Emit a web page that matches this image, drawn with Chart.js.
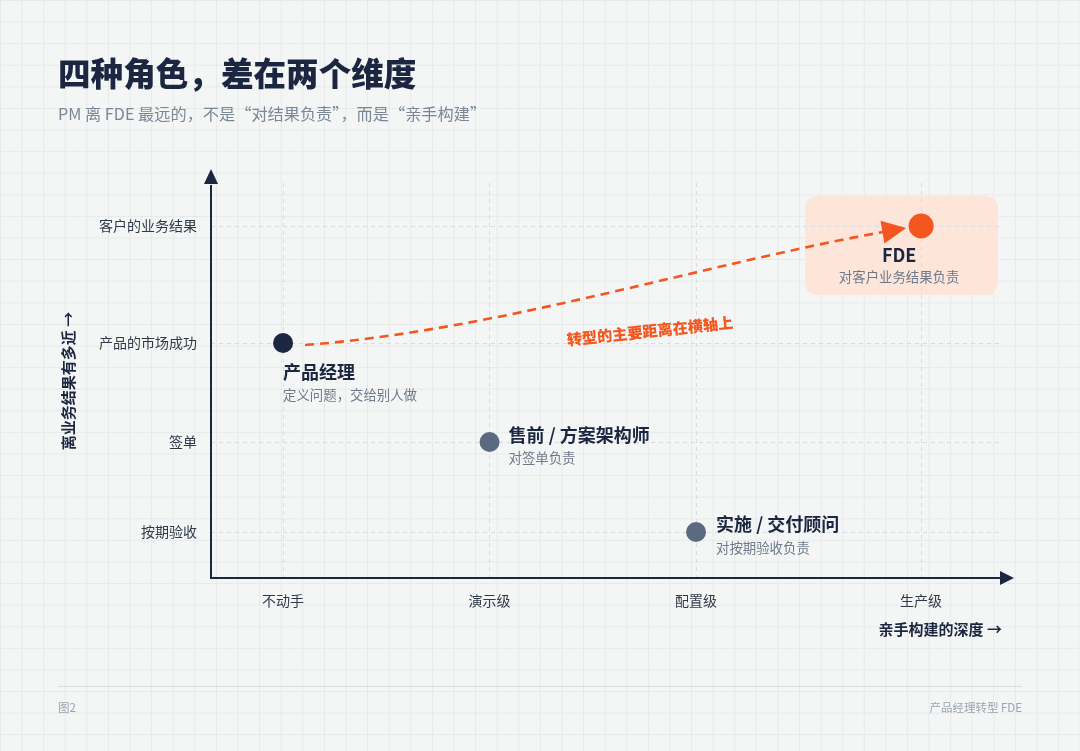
<!DOCTYPE html>
<html lang="zh-CN">
<head>
<meta charset="utf-8">
<title>四种角色，差在两个维度</title>
<script src="https://cdn.jsdelivr.net/npm/chart.js@4.4.1/dist/chart.umd.min.js"></script>
<style>
html, body { margin: 0; padding: 0; }
body {
  width: 1080px; height: 751px; position: relative; overflow: hidden;
  background-color: #f4f6f5;
  background-image:
    linear-gradient(to right, #e6eae9 1px, transparent 1px),
    linear-gradient(to bottom, #e6eae9 1px, transparent 1px);
  background-size: 21.6px 21.6px;
  font-family: "Noto Sans CJK SC", "Noto Sans", sans-serif;
}
#chart { position: absolute; left: 0; top: 0; }
.title { position: absolute; left: 58px; top: 56px; font-size: 32.6px; line-height: 32px; font-weight: 900; color: #1b2640; }
.subtitle { position: absolute; left: 58px; top: 102px; font-size: 16.2px; line-height: 22px; color: #7b8797; }
.xtitle { position: absolute; right: 78px; top: 619px; font-size: 15px; line-height: 20px; font-weight: 700; color: #1b2640; }
.ytitle { position: absolute; left: 68px; top: 381px; font-size: 15px; line-height: 20px; font-weight: 700; color: #1b2640;
  white-space: nowrap; transform: translate(-50%, -50%) rotate(-90deg); }
.rule { position: absolute; left: 58px; top: 686px; width: 964px; height: 1px; background: #d8dde3; }
.foot { position: absolute; top: 699px; font-size: 11.5px; line-height: 16px; color: #9aa5b1; }
</style>
</head>
<body>
<canvas id="chart" width="1080" height="751"></canvas>
<div class="title">四种角色，差在两个维度</div>
<div class="subtitle">PM 离 FDE 最远的，不是“对结果负责”，而是“亲手构建”</div>
<div class="ytitle">离业务结果有多近 →</div>
<div class="xtitle">亲手构建的深度 →</div>
<div class="rule"></div>
<div class="foot" style="left:58px">图2</div>
<div class="foot" style="right:58px">产品经理转型 FDE</div>
<script>
// 横轴：亲手构建的深度
const xLevels = ['不动手', '演示级', '配置级', '生产级'];
const xLevelPos = [0, 1, 2, 3.09];
// 纵轴：离业务结果有多近
const yLevels = ['按期验收', '签单', '产品的市场成功', '客户的业务结果'];
const yLevelPos = [1, 2, 3.1, 4.4];

// 四种角色
const roleNames = ['产品经理', '售前 / 方案架构师', '实施 / 交付顾问', 'FDE'];
const roleNotes = ['定义问题，交给别人做', '对签单负责', '对按期验收负责', '对客户业务结果负责'];
const roleBuild = [0, 1, 2, 3];   // index in xLevels
const roleOutcome = [2, 1, 0, 3]; // index in yLevels
const arrowLabel = '转型的主要距离在横轴上';

const FONT = '"Noto Sans CJK SC", "Noto Sans", sans-serif';
const NAVY = '#1b2640';
const SLATE = '#5b6a80';
const ORANGE = '#f4561f';

// where each role's name / note sits relative to its dot
const labelPlace = [
  { align: 'left', dx: 0, nameDy: 29, noteDy: 52 },
  { align: 'left', dx: 19, nameDy: -7, noteDy: 16 },
  { align: 'left', dx: 20, nameDy: -8, noteDy: 16 },
  { align: 'center', dx: -22, nameDy: 29, noteDy: 51 }
];

const rolePlugin = {
  id: 'roles',
  beforeDraw(chart) {
    // highlight box behind FDE
    const f = chart.getDatasetMeta(0).data[3];
    const ctx = chart.ctx;
    ctx.save();
    ctx.fillStyle = '#fde5da';
    ctx.beginPath();
    ctx.roundRect(f.x - 116, f.y - 30, 193, 99, 12);
    ctx.fill();
    ctx.restore();
  },
  beforeDatasetsDraw(chart) {
    const ctx = chart.ctx;
    const ca = chart.chartArea;
    const pts = chart.getDatasetMeta(0).data;

    // axes with arrows
    ctx.save();
    ctx.strokeStyle = NAVY;
    ctx.fillStyle = NAVY;
    ctx.lineWidth = 2;
    ctx.beginPath();
    ctx.moveTo(ca.left, ca.top + 2);
    ctx.lineTo(ca.left, ca.bottom);
    ctx.lineTo(ca.right + 1, ca.bottom);
    ctx.stroke();
    ctx.beginPath();
    ctx.moveTo(ca.left, ca.top - 14);
    ctx.lineTo(ca.left - 7, ca.top + 1);
    ctx.lineTo(ca.left + 7, ca.top + 1);
    ctx.closePath();
    ctx.fill();
    ctx.beginPath();
    ctx.moveTo(ca.right + 14, ca.bottom);
    ctx.lineTo(ca.right, ca.bottom - 7);
    ctx.lineTo(ca.right, ca.bottom + 7);
    ctx.closePath();
    ctx.fill();
    ctx.restore();

    // dashed transition arrow PM -> FDE
    const a = pts[0], b = pts[3];
    const sx = a.x + 22, sy = a.y + 2;
    const ex = b.x - 38, ey = b.y + 6;
    const dx = ex - sx, dy = ey - sy;
    ctx.save();
    ctx.strokeStyle = ORANGE;
    ctx.fillStyle = ORANGE;
    ctx.lineWidth = 2.6;
    ctx.setLineDash([9, 6]);
    ctx.beginPath();
    ctx.moveTo(sx, sy);
    ctx.bezierCurveTo(sx + dx * 0.337, sy + dy * 0.133, sx + dx * 0.682, sy + dy * 0.708, ex, ey);
    ctx.stroke();
    ctx.setLineDash([]);
    const tx = b.x - 15, ty = b.y + 2;
    const ang = Math.atan2(ty - ey, tx - ex);
    const len = 24, hw = 11.5;
    const bx = tx - Math.cos(ang) * len, by = ty - Math.sin(ang) * len;
    ctx.beginPath();
    ctx.moveTo(tx, ty);
    ctx.lineTo(bx - Math.sin(ang) * hw, by + Math.cos(ang) * hw);
    ctx.lineTo(bx + Math.sin(ang) * hw, by - Math.cos(ang) * hw);
    ctx.closePath();
    ctx.fill();

    // rotated note on the arrow
    ctx.translate(a.x + (b.x - a.x) * 0.575, a.y - 12);
    ctx.rotate(-6 * Math.PI / 180);
    ctx.font = '900 15.2px ' + FONT;
    ctx.textAlign = 'center';
    ctx.textBaseline = 'middle';
    ctx.fillText(arrowLabel, 0, 0);
    ctx.restore();
  },
  afterDatasetsDraw(chart) {
    const ctx = chart.ctx;
    const pts = chart.getDatasetMeta(0).data;
    ctx.save();
    ctx.textBaseline = 'middle';
    pts.forEach((p, i) => {
      const lp = labelPlace[i];
      ctx.textAlign = lp.align;
      ctx.font = '700 18px ' + FONT;
      ctx.fillStyle = NAVY;
      ctx.fillText(roleNames[i], p.x + lp.dx, p.y + lp.nameDy);
      ctx.font = '13.4px ' + FONT;
      ctx.fillStyle = '#6e7a89';
      ctx.fillText(roleNotes[i], p.x + lp.dx, p.y + lp.noteDy);
    });
    ctx.restore();
  }
};

const tickFont = { family: FONT, size: 14 };

new Chart(document.getElementById('chart'), {
  type: 'scatter',
  data: {
    datasets: [{
      data: roleNames.map((n, i) => ({ x: xLevelPos[roleBuild[i]], y: yLevelPos[roleOutcome[i]] })),
      pointBackgroundColor: [NAVY, SLATE, SLATE, ORANGE],
      pointBorderWidth: 0,
      pointRadius: [10, 10, 10, 12.5],
      pointHoverRadius: [10, 10, 10, 12.5]
    }]
  },
  options: {
    responsive: false,
    animation: false,
    events: [],
    layout: { padding: { left: 0, right: 80, top: 183, bottom: 0 } },
    plugins: { legend: { display: false }, tooltip: { enabled: false } },
    scales: {
      x: {
        type: 'linear',
        min: -0.349,
        max: 3.472,
        afterBuildTicks: s => { s.ticks = xLevelPos.map(v => ({ value: v })); },
        afterFit: s => { s.height = 173; },
        ticks: { callback: (v, i) => xLevels[i], padding: 14, font: tickFont, color: '#2f3a48', maxRotation: 0, autoSkip: false },
        grid: { color: '#d6dce3', lineWidth: 1, drawTicks: false },
        border: { display: false, dash: [4, 4] }
      },
      y: {
        type: 'linear',
        min: 0.489,
        max: 4.878,
        afterBuildTicks: s => { s.ticks = yLevelPos.map(v => ({ value: v })); },
        afterFit: s => { s.width = 211; },
        ticks: { callback: (v, i) => yLevels[i], padding: 14, font: tickFont, color: '#2f3a48', autoSkip: false },
        grid: { color: '#d6dce3', lineWidth: 1, drawTicks: false },
        border: { display: false, dash: [4, 4] }
      }
    }
  },
  plugins: [rolePlugin]
});
</script>
</body>
</html>
